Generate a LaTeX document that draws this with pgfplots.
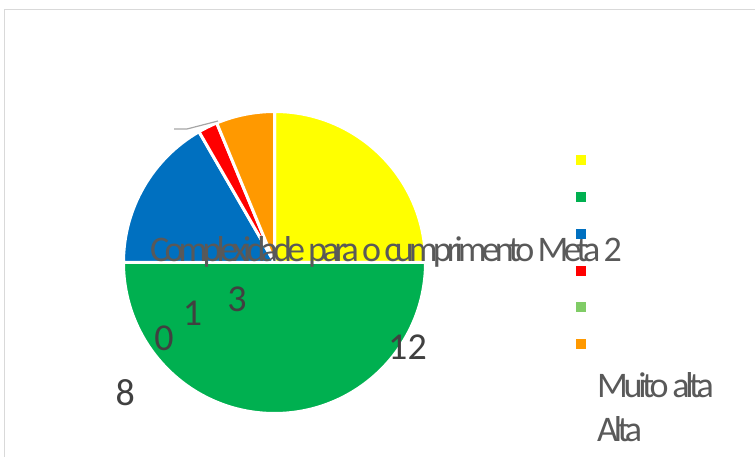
\documentclass[border=0pt]{standalone}
\usepackage{pgfplots}
\pgfplotsset{compat=1.18}
\usepackage{pgfplotstable}
\usepackage{fontspec}
\setmainfont{Carlito}
\newfontfamily\condfont[LetterSpace=-12]{Carlito}
\newfontfamily\titlefont[LetterSpace=-13.5]{Carlito}
\definecolor{cYel}{HTML}{FFFF00}
\definecolor{cGre}{HTML}{00B050}
\definecolor{cBlu}{HTML}{0070C0}
\definecolor{cRed}{HTML}{FF0000}
\definecolor{cLgr}{HTML}{80CC66}
\definecolor{cOra}{HTML}{FF9900}
\definecolor{cTxt}{HTML}{595959}
\definecolor{cNum}{HTML}{404040}
\definecolor{cFrame}{HTML}{D9D9D9}
\definecolor{cLead}{HTML}{A6A6A6}

% pie values (clockwise from 12 o'clock)
\pgfplotstableread{
cat value
A 12
B 24
C 8
D 1
E 0
F 3
}\piedata

\begin{document}
\begin{tikzpicture}
\pgfplotstablegetelem{0}{value}\of\piedata\let\vA\pgfplotsretval
\pgfplotstablegetelem{1}{value}\of\piedata\let\vB\pgfplotsretval
\pgfplotstablegetelem{2}{value}\of\piedata\let\vC\pgfplotsretval
\pgfplotstablegetelem{3}{value}\of\piedata\let\vD\pgfplotsretval
\pgfplotstablegetelem{4}{value}\of\piedata\let\vE\pgfplotsretval
\pgfplotstablegetelem{5}{value}\of\piedata\let\vF\pgfplotsretval
\pgfmathsetmacro\tot{\vA+\vB+\vC+\vD+\vE+\vF}
\pgfmathsetmacro\aA{90}
\pgfmathsetmacro\aB{\aA-360*\vA/\tot}
\pgfmathsetmacro\aC{\aB-360*\vB/\tot}
\pgfmathsetmacro\aD{\aC-360*\vC/\tot}
\pgfmathsetmacro\aE{\aD-360*\vD/\tot}
\pgfmathsetmacro\aF{\aE-360*\vE/\tot}
\pgfmathsetmacro\aG{\aF-360*\vF/\tot}
\begin{axis}[scale only axis, width=755pt, height=457pt,
  xmin=0, xmax=755, ymin=0, ymax=457, hide axis, clip=false]
% frame
\draw[cFrame, line width=1.5pt] (axis cs:4.5,0) -- (axis cs:4.5,447.5) -- (axis cs:755,447.5);
% pie slices
\fill[cYel, draw=white, line width=3pt, line join=round] (axis cs:274.5,194.5) -- ++(\aA:151pt) arc[start angle=\aA, end angle=\aB, radius=151pt] -- cycle;
\fill[cGre, draw=white, line width=3pt, line join=round] (axis cs:274.5,194.5) -- ++(\aB:151pt) arc[start angle=\aB, end angle=\aC, radius=151pt] -- cycle;
\fill[cBlu, draw=white, line width=3pt, line join=round] (axis cs:274.5,194.5) -- ++(\aC:151pt) arc[start angle=\aC, end angle=\aD, radius=151pt] -- cycle;
\fill[cRed, draw=white, line width=3pt, line join=round] (axis cs:274.5,194.5) -- ++(\aD:151pt) arc[start angle=\aD, end angle=\aE, radius=151pt] -- cycle;
\fill[cOra, draw=white, line width=3pt, line join=round] (axis cs:274.5,194.5) -- ++(\aF:151pt) arc[start angle=\aF, end angle=\aG, radius=151pt] -- cycle;
% leader line
\draw[cLead, line width=1.2pt] (axis cs:174,328) -- (axis cs:187,328) -- (axis cs:218,336);
% legend markers
\addplot[only marks, mark=square*, mark size=4.5pt, color=cYel] coordinates {(581,297)};
\addplot[only marks, mark=square*, mark size=4.5pt, color=cGre] coordinates {(581,260)};
\addplot[only marks, mark=square*, mark size=4.5pt, color=cBlu] coordinates {(581,223.3)};
\addplot[only marks, mark=square*, mark size=4.5pt, color=cRed] coordinates {(581,186.3)};
\addplot[only marks, mark=square*, mark size=4.5pt, color=cLgr] coordinates {(581,150)};
\addplot[only marks, mark=square*, mark size=4.5pt, color=cOra] coordinates {(581,113)};
% title
\node[anchor=base west, inner sep=0, text=cTxt, font=\titlefont\fontsize{36}{40}\selectfont] at (axis cs:150,195) {Complexidade para o cumprimento Meta 2};
% legend text
\node[anchor=base west, inner sep=0, text=cTxt, font=\condfont\fontsize{36}{40}\selectfont] at (axis cs:597,59) {Muito alta};
\node[anchor=base west, inner sep=0, text=cTxt, font=\condfont\fontsize{36}{40}\selectfont] at (axis cs:597,15.3) {Alta};
% data labels
\node[inner sep=0, text=cNum, font=\fontsize{38}{40}\selectfont] at (axis cs:407.5,110) {12};
\node[inner sep=0, text=cNum, font=\fontsize{38}{40}\selectfont] at (axis cs:125.3,64.5) {8};
\node[inner sep=0, text=cNum, font=\fontsize{38}{40}\selectfont] at (axis cs:164,119) {0};
\node[inner sep=0, text=cNum, font=\fontsize{38}{40}\selectfont] at (axis cs:192.5,143.3) {1};
\node[inner sep=0, text=cNum, font=\fontsize{38}{40}\selectfont] at (axis cs:237,158) {3};
\end{axis}
\pgfresetboundingbox
\useasboundingbox (current axis.south west) rectangle (current axis.north east);
\end{tikzpicture}
\end{document}
